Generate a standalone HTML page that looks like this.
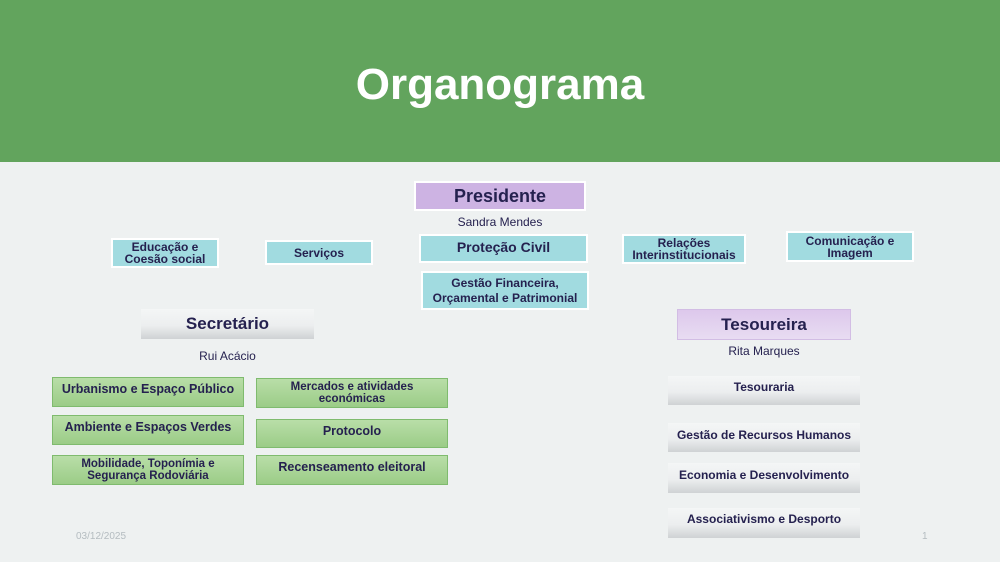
<!DOCTYPE html>
<html><head><meta charset="utf-8"><style>
*{margin:0;padding:0;box-sizing:border-box}
body{width:1000px;height:562px;background:#eef1f1;position:relative;overflow:hidden;font-family:"Liberation Sans",sans-serif;color:#25214f}
.a{position:absolute;display:flex;align-items:center;justify-content:center;text-align:center;font-weight:bold;line-height:1.0}
.c{background:#a1dbe0;border:2px solid #fff;font-size:12px}
.g{background:linear-gradient(#b9dea8,#9bcc87);border:1px solid #7fbb6e;font-size:11.5px;align-items:flex-start;padding-top:5px}
.s{background:linear-gradient(#f4f6f6 0%,#eceeef 55%,#cfd2d4 100%);font-size:12px;align-items:flex-start;padding-top:5px}
.t{position:absolute;font-size:12px;text-align:center}
</style></head><body>
<div style="position:absolute;left:0;top:0;width:1000px;height:162px;background:#62a45d"></div>
<div class="a" style="left:0;top:60px;width:1000px;height:50px;color:#fff;font-size:44px">Organograma</div>

<div class="a" style="left:414px;top:181px;width:172px;height:30px;background:#cdb3e3;border:2px solid #fff;font-size:18px">Presidente</div>
<div class="t" style="left:414px;top:215px;width:172px">Sandra Mendes</div>

<div class="a c" style="left:111px;top:238px;width:108px;height:30px">Educação e<br>Coesão social</div>
<div class="a c" style="left:265px;top:240px;width:108px;height:25px">Serviços</div>
<div class="a c" style="left:419px;top:234px;width:169px;height:29px;font-size:14px;align-items:flex-start;padding-top:4px">Proteção Civil</div>
<div class="a c" style="left:421px;top:271px;width:168px;height:39px;line-height:1.25">Gestão Financeira,<br>Orçamental e Patrimonial</div>
<div class="a c" style="left:622px;top:234px;width:124px;height:30px">Relações<br>Interinstitucionais</div>
<div class="a c" style="left:786px;top:231px;width:128px;height:31px;align-items:flex-start;padding-top:2px">Comunicação e<br>Imagem</div>

<div class="a s" style="left:141px;top:309px;width:173px;height:30px;font-size:17px;padding-top:6px">Secretário</div>
<div class="t" style="left:141px;top:349px;width:173px">Rui Acácio</div>

<div class="a" style="left:677px;top:309px;width:174px;height:31px;background:linear-gradient(#ddc8ec,#e8dcf2);border:1px solid #d2bde4;font-size:17px">Tesoureira</div>
<div class="t" style="left:677px;top:344px;width:174px">Rita Marques</div>

<div class="a g" style="left:52px;top:377px;width:192px;height:30px;font-size:12.5px;padding-top:5px">Urbanismo e Espaço Público</div>
<div class="a g" style="left:52px;top:415px;width:192px;height:30px;font-size:12.5px">Ambiente e Espaços Verdes</div>
<div class="a g" style="left:52px;top:455px;width:192px;height:30px;padding-top:3px">Mobilidade, Toponímia e<br>Segurança Rodoviária</div>
<div class="a g" style="left:256px;top:378px;width:192px;height:30px;padding-top:3px">Mercados e atividades<br>económicas</div>
<div class="a g" style="left:256px;top:419px;width:192px;height:29px;font-size:12.5px">Protocolo</div>
<div class="a g" style="left:256px;top:455px;width:192px;height:30px;font-size:12.5px">Recenseamento eleitoral</div>

<div class="a s" style="left:668px;top:376px;width:192px;height:29px">Tesouraria</div>
<div class="a s" style="left:668px;top:423px;width:192px;height:29px;padding-top:6px">Gestão de Recursos Humanos</div>
<div class="a s" style="left:668px;top:463px;width:192px;height:30px;padding-top:6px">Economia e Desenvolvimento</div>
<div class="a s" style="left:668px;top:508px;width:192px;height:30px;padding-top:5px">Associativismo e Desporto</div>

<div style="position:absolute;left:76px;top:531px;font-size:10px;color:#b4bcc0">03/12/2025</div>
<div style="position:absolute;left:922px;top:531px;font-size:10px;color:#b4bcc0">1</div>
</body></html>
